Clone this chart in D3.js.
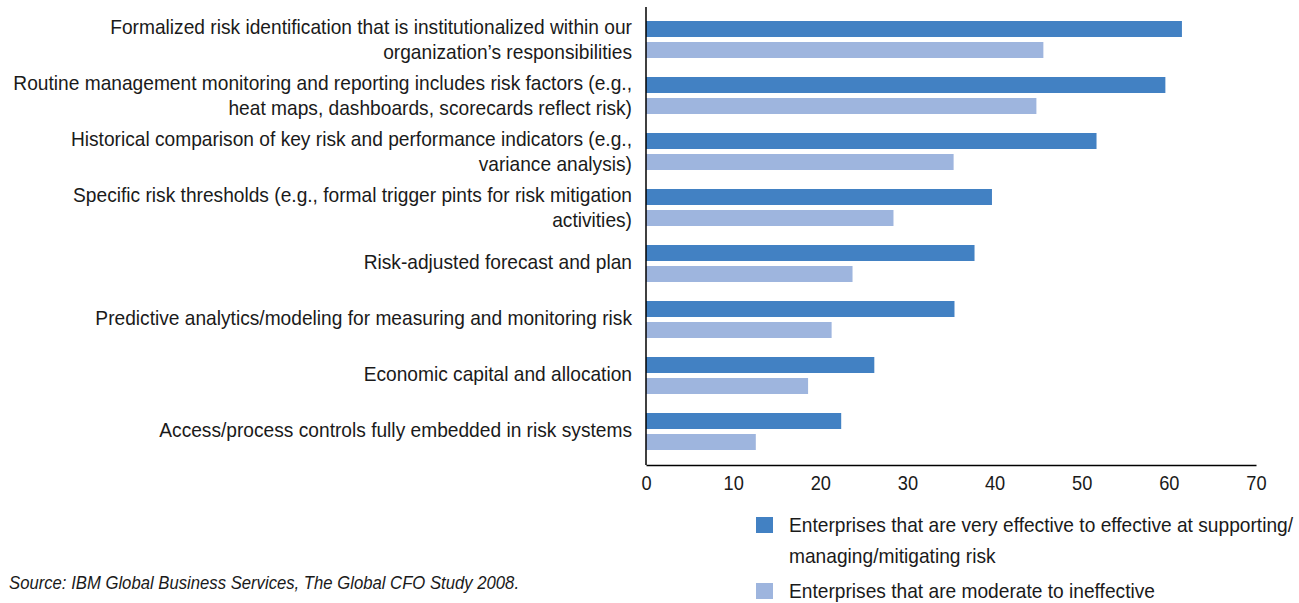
<!DOCTYPE html>
<html>
<head>
<meta charset="utf-8">
<script src="https://d3js.org/d3.v7.min.js"></script>
<style>
    body { margin: 0; padding: 0; background: #fff; }
    svg text { font-family: "Liberation Sans", Arial, sans-serif; fill: #1a1a1a; }
</style>
<title>Risk practices</title>
</head>
<body>
<div id="chart"></div>
<script>
    // category labels (each one split in display lines)
    var categories = [
        ["Formalized risk identification that is institutionalized within our", "organization\u2019s responsibilities"],
        ["Routine management monitoring and reporting includes risk factors (e.g.,", "heat maps, dashboards, scorecards reflect risk)"],
        ["Historical comparison of key risk and performance indicators (e.g.,", "variance analysis)"],
        ["Specific risk thresholds (e.g., formal trigger pints for risk mitigation", "activities)"],
        ["Risk-adjusted forecast and plan"],
        ["Predictive analytics/modeling for measuring and monitoring risk"],
        ["Economic capital and allocation"],
        ["Access/process controls fully embedded in risk systems"]
    ];

    var effective = [61.5, 59.6, 51.7, 39.7, 37.7, 35.4, 26.2, 22.4];
    var ineffective = [45.6, 44.8, 35.3, 28.4, 23.7, 21.3, 18.6, 12.6];

    var xTicks = [0, 10, 20, 30, 40, 50, 60, 70];

    var seriesNames = [
        ["Enterprises that are very effective to effective at supporting/", "managing/mitigating risk"],
        ["Enterprises that are moderate to ineffective"]
    ];
    var sourceNote = "Source: IBM Global Business Services, The Global CFO Study 2008.";

    var darkBlue = "#4281c3", lightBlue = "#9eb5de";

    var width = 1299, height = 603;
    var svg = d3.select("#chart").append("svg")
        .attr("width", width)
        .attr("height", height);

    var x = d3.scaleLinear().domain([0, 70]).range([646, 1256]);
    var y = d3.scaleBand().domain(d3.range(categories.length)).range([11.5, 459.5]);
    var axisY = 465;

    //no narrow font installed, so squeeze the regular one to fit
    //the longest label width seen in the original (about 619px)
    var probe = svg.append("text").style("font-size", "21px").text(categories[1][0]);
    var squeeze = 619 / probe.node().getComputedTextLength();
    probe.remove();

    //bars, two per category
    var groups = svg.selectAll("g.cat")
        .data(categories)
        .enter().append("g")
        .attr("class", "cat");

    groups.append("rect")
        .attr("x", x(0))
        .attr("y", function (d, i) { return y(i) + y.bandwidth() / 2 - 18.5; })
        .attr("width", function (d, i) { return x(effective[i]) - x(0); })
        .attr("height", 16)
        .style("fill", darkBlue);

    groups.append("rect")
        .attr("x", x(0))
        .attr("y", function (d, i) { return y(i) + y.bandwidth() / 2 + 2.5; })
        .attr("width", function (d, i) { return x(ineffective[i]) - x(0); })
        .attr("height", 16)
        .style("fill", lightBlue);

    //category labels, right aligned next to the axis
    groups.each(function (lines, i) {
        var c = y(i) + y.bandwidth() / 2;
        var t = d3.select(this).append("g")
            .attr("transform", "translate(632,0) scale(" + squeeze + ",1)")
            .append("text")
            .attr("text-anchor", "end")
            .style("font-size", "21px");
        lines.forEach(function (line, k) {
            var off = lines.length == 1 ? -2 : (k == 0 ? -12.5 : 12.5);
            t.append("tspan")
                .attr("x", 0)
                .attr("y", c + off)
                .attr("dy", "0.35em")
                .text(line);
        });
    });

    //axes
    var xAxis = svg.append("g")
        .attr("transform", "translate(0," + axisY + ")")
        .call(d3.axisBottom(x).tickValues(xTicks).tickSize(0).tickPadding(11));
    xAxis.select(".domain").attr("stroke", "#000").attr("stroke-width", 1.5);
    xAxis.selectAll("text")
        .style("font-size", "20px")
        .style("font-family", "'Liberation Sans', Arial, sans-serif")
        .attr("fill", "#1a1a1a")
        .attr("transform", "scale(" + squeeze + ",1)");

    svg.append("line")
        .attr("x1", x(0)).attr("x2", x(0))
        .attr("y1", 7).attr("y2", axisY)
        .attr("stroke", "#000")
        .attr("stroke-width", 1.5);

    //legend
    var legendColors = [darkBlue, lightBlue];
    var legendTop = [517, 583];
    seriesNames.forEach(function (lines, i) {
        svg.append("rect")
            .attr("x", 756)
            .attr("y", legendTop[i])
            .attr("width", 17)
            .attr("height", 16)
            .style("fill", legendColors[i]);
        var t = svg.append("g")
            .attr("transform", "translate(789,0) scale(" + squeeze + ",1)")
            .append("text").style("font-size", "21px");
        lines.forEach(function (line, k) {
            t.append("tspan")
                .attr("x", 0)
                .attr("y", legendTop[i] + 8 + k * 31)
                .attr("dy", "0.35em")
                .text(line);
        });
    });

    svg.append("g")
        .attr("transform", "translate(9,0) scale(" + squeeze + ",1)")
        .append("text")
        .attr("x", 0)
        .attr("y", 583)
        .attr("dy", "0.35em")
        .style("font-size", "18.3px")
        .style("font-style", "italic")
        .text(sourceNote);
</script>
</body>
</html>
